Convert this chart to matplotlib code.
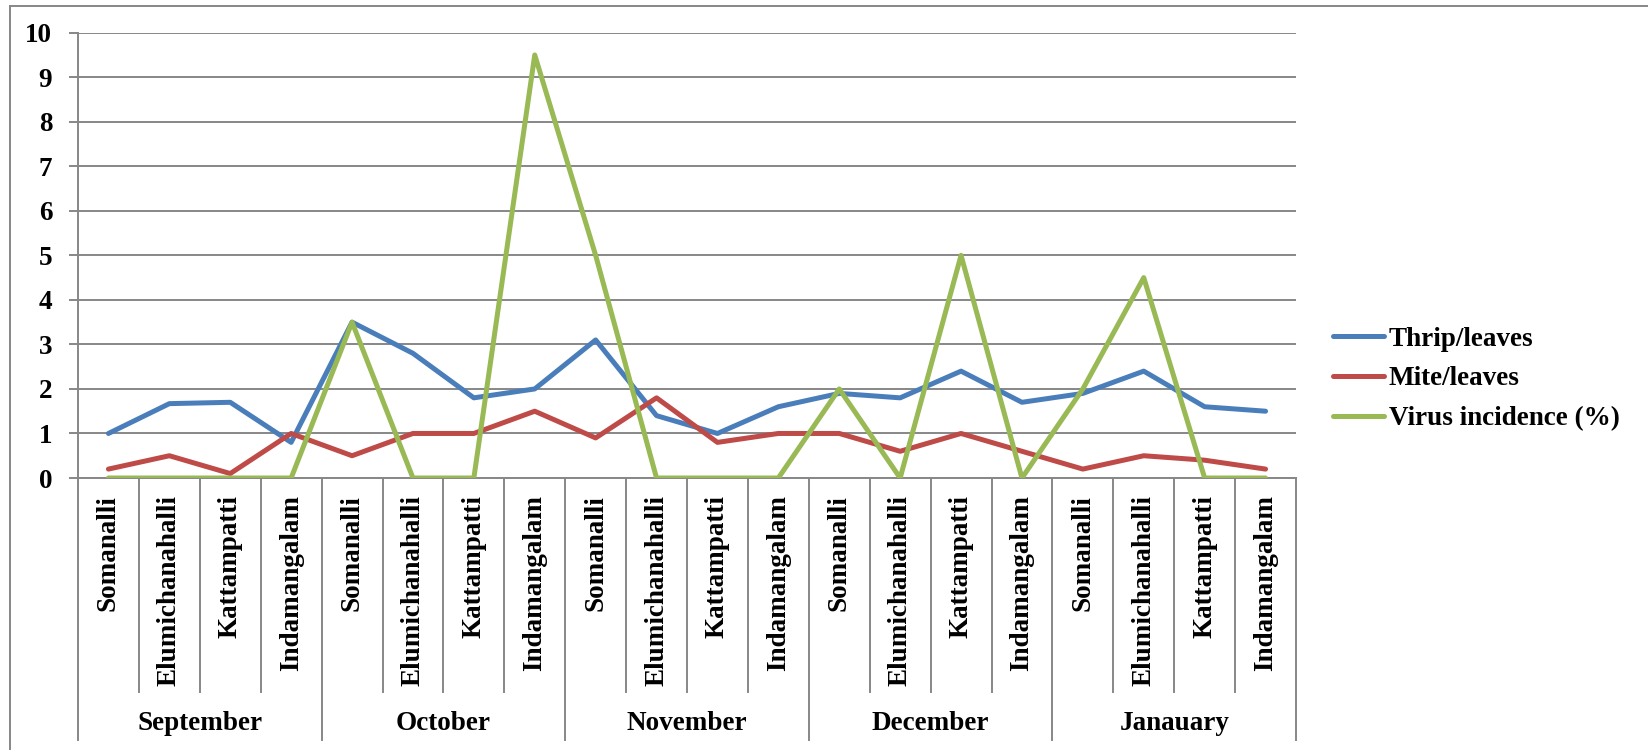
import numpy as np
import matplotlib
matplotlib.use("Agg")
import matplotlib.pyplot as plt
from matplotlib.lines import Line2D

# data
months = ["September", "October", "November", "December", "Janauary"]
cities = ["Somanalli", "Elumichanahalli", "Kattampatti", "Indamangalam"]
thrip = [1.0, 1.67, 1.7, 0.8,  3.5, 2.8, 1.8, 2.0,  3.1, 1.4, 1.0, 1.6,
         1.9, 1.8, 2.4, 1.7,  1.9, 2.4, 1.6, 1.5]
mite = [0.2, 0.5, 0.1, 1.0,  0.5, 1.0, 1.0, 1.5,  0.9, 1.8, 0.8, 1.0,
        1.0, 0.6, 1.0, 0.6,  0.2, 0.5, 0.4, 0.2]
virus = [0, 0, 0, 0,  3.5, 0, 0, 9.5,  5.0, 0, 0, 0,
         2.0, 0, 5.0, 0,  2.0, 4.5, 0, 0]

W, H = 1648, 750
plt.rcParams['font.family'] = ['Liberation Serif', 'DejaVu Serif']
plt.rcParams['font.weight'] = 'bold'
fs = 19.5
grey = "#878787"

fig = plt.figure(figsize=(W / 100, H / 100), dpi=100)
fig.patch.set_facecolor("white")

# plot area in pixels
x0, x1, ytop, ybot = 78, 1296, 32.7, 478
ax = fig.add_axes([x0 / W, 1 - ybot / H, (x1 - x0) / W, (ybot - ytop) / H])

n = len(thrip)
x = np.arange(n)
ax.plot(x, thrip, color="#4A7EBB", lw=3.6, label="Thrip/leaves", solid_capstyle="round", zorder=3)
ax.plot(x, mite, color="#BE4B48", lw=3.6, label="Mite/leaves", solid_capstyle="round", zorder=3)
ax.plot(x, virus, color="#98B954", lw=3.6, label="Virus incidence (%)", solid_capstyle="round", zorder=3)

ax.set_xlim(-0.5, n - 0.5)
ax.set_ylim(0, 10)
ax.set_yticks(range(0, 11))
ax.yaxis.grid(True, color=grey, lw=1.4)
ax.set_axisbelow(True)
for s in ["top", "right"]:
    ax.spines[s].set_visible(False)
for s in ["left", "bottom"]:
    ax.spines[s].set_color(grey)
    ax.spines[s].set_linewidth(1.4)
ax.tick_params(axis="y", length=6.5, width=1.4, color=grey, labelsize=fs, pad=12)
for lab in ax.get_yticklabels():
    lab.set_fontweight("bold")
ax.set_xticks([])

# category axis: city labels + separators, month labels + separators
tr = ax.get_xaxis_transform()
ppx = ybot - ytop
y_city_end = -(692 - ybot) / ppx
y_month_end = -(740 - ybot) / ppx
y_lab = -(495 - ybot) / ppx
y_month = -(724 - ybot) / ppx

for i in range(n):
    ax.text(i, y_lab, cities[i % 4], rotation=90, ha="center", va="top",
            fontsize=fs, fontweight="bold", transform=tr)
for i in range(1, n):
    if i % 4:
        ax.add_line(Line2D([i - 0.5, i - 0.5], [0, y_city_end], color=grey, lw=1.4,
                           transform=tr, clip_on=False))
for k in range(len(months) + 1):
    xb = 4 * k - 0.5
    ax.add_line(Line2D([xb, xb], [0, y_month_end], color=grey, lw=1.4,
                       transform=tr, clip_on=False))
for k, m in enumerate(months):
    ax.text(4 * k + 1.5, y_month, m, ha="center", va="center",
            fontsize=fs, fontweight="bold", transform=tr)

leg = ax.legend(loc="center left", bbox_to_anchor=(1333 / W, 1 - 379 / H),
                bbox_transform=fig.transFigure, frameon=False, fontsize=fs,
                handlelength=1.9, handletextpad=0.15, labelspacing=0.55,
                borderpad=0, borderaxespad=0, prop={"weight": "bold", "size": fs})

# outer chart border
fig.add_artist(Line2D([9.5 / W, 1], [1 - 5.7 / H, 1 - 5.7 / H], color=grey, lw=1.4))
fig.add_artist(Line2D([9.5 / W, 9.5 / W], [0, 1 - 5.7 / H], color=grey, lw=1.4))

fig.savefig("out.png", dpi=100)
